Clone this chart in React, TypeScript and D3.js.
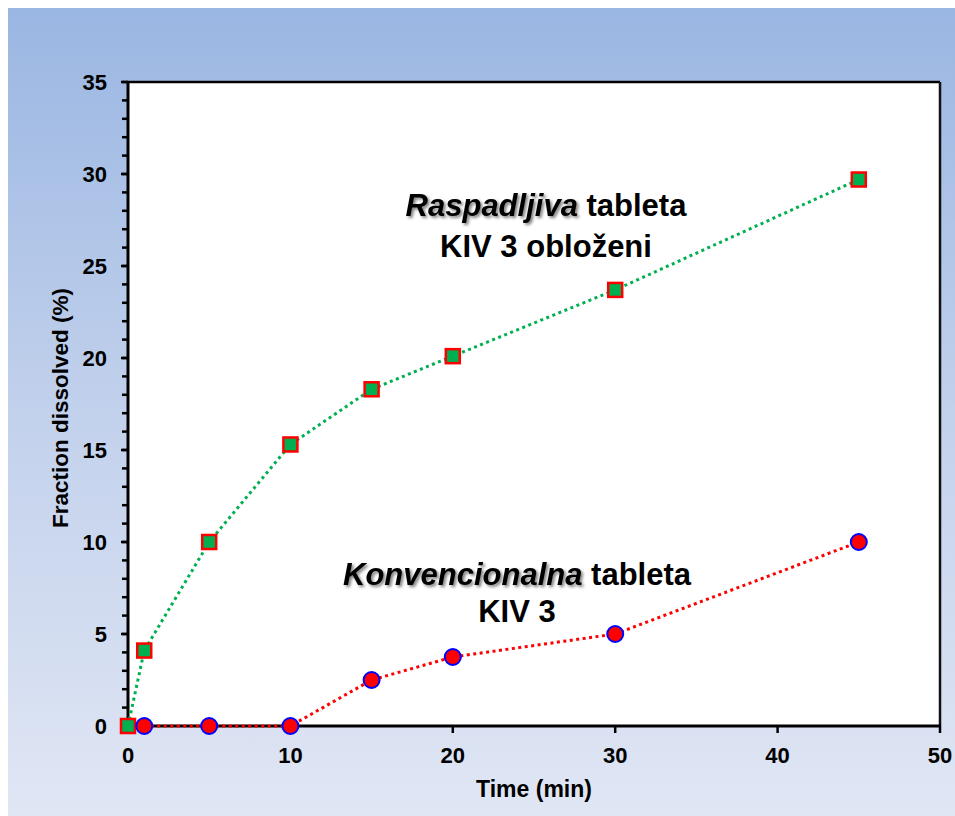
import React from 'react';
import * as d3 from 'd3';

const timeRasp = [0, 1, 5, 10, 15, 20, 30, 45];
const raspadljiva = [0, 4.1, 10, 15.3, 18.3, 20.1, 23.7, 29.7];
const timeKonv = [1, 5, 10, 15, 20, 30, 45];
const konvencionalna = [0, 0, 0, 2.5, 3.75, 5, 10];
const xTicks = [0, 10, 20, 30, 40, 50];
const yTicks = [0, 5, 10, 15, 20, 25, 30, 35];
const yMinorTicks = d3.range(0, 36, 1);

const FONT = '"Liberation Sans", Arial, sans-serif';

export default function App() {
  const W = 955, H = 816;
  const x = d3.scaleLinear().domain([0, 50]).range([128, 940]);
  const y = d3.scaleLinear().domain([0, 35]).range([726, 82]);
  const rasp = timeRasp.map((t, i) => [t, raspadljiva[i]] as [number, number]);
  const konv = timeKonv.map((t, i) => [t, konvencionalna[i]] as [number, number]);
  const line = d3.line<[number, number]>().x(d => x(d[0])).y(d => y(d[1]));

  const annot = (cx: number, y1: number, y2: number, it: string, rest: string, second: string) => (
    <g fontFamily={FONT} fontWeight="bold" fontSize={31} textAnchor="middle">
      <text x={cx} y={y1} filter="url(#shadow)">
        <tspan fontStyle="italic" fill="#000">{it}</tspan>
        <tspan fill="none">{' ' + rest}</tspan>
      </text>
      <text x={cx} y={y1}>
        <tspan fontStyle="italic" fill="none">{it}</tspan>
        <tspan fill="#000">{' ' + rest}</tspan>
      </text>
      <text x={cx} y={y2} fill="#000">{second}</text>
    </g>
  );

  return (
    <svg width={W} height={H} style={{ position: 'absolute', left: 0, top: 0, display: 'block' }}>
      <defs>
        <linearGradient id="bg" x1="0" y1="0" x2="0" y2="1">
          <stop offset="0" stopColor="#9ab6e2" />
          <stop offset="0.5" stopColor="#c2d1ec" />
          <stop offset="1" stopColor="#e0e6f4" />
        </linearGradient>
        <filter id="shadow" x="-10%" y="-40%" width="130%" height="190%">
          <feGaussianBlur in="SourceAlpha" stdDeviation="1.6" />
          <feOffset dx="2" dy="2" result="off" />
          <feFlood floodColor="#000" floodOpacity="0.5" />
          <feComposite in2="off" operator="in" />
          <feMerge>
            <feMergeNode />
            <feMergeNode in="SourceGraphic" />
          </feMerge>
        </filter>
      </defs>
      <rect x={8} y={8} width={W - 8} height={H - 8} fill="url(#bg)" />
      <rect x={x(0)} y={y(35)} width={x(50) - x(0)} height={y(0) - y(35)} fill="#fff" />

      {/* frame */}
      <line x1={x(0)} x2={x(50)} y1={y(35)} y2={y(35)} stroke="#000" strokeWidth={2.5} />
      <line x1={x(50)} x2={x(50)} y1={y(35)} y2={y(0)} stroke="#111" strokeWidth={2.5} />

      {/* y ticks */}
      {yMinorTicks.map(v => (
        <line key={'m' + v} x1={x(0) - 6} x2={x(0)} y1={y(v)} y2={y(v)} stroke="#000" strokeWidth={2.5} />
      ))}
      {yTicks.map(v => (
        <line key={'M' + v} x1={x(0) - 7} x2={x(0)} y1={y(v)} y2={y(v)} stroke="#000" strokeWidth={2.5} />
      ))}
      {xTicks.map(v => (
        <line key={'x' + v} x1={x(v)} x2={x(v)} y1={y(0)} y2={y(0) + 7} stroke="#000" strokeWidth={2.5} />
      ))}
      <line x1={x(0)} x2={x(0)} y1={y(35) - 1} y2={y(0) + 1.5} stroke="#000" strokeWidth={3} />
      <line x1={x(0) - 1.5} x2={x(50) + 1} y1={y(0)} y2={y(0)} stroke="#000" strokeWidth={3} />

      <g fontFamily={FONT} fontWeight="bold" fill="#000">
        {yTicks.map(v => (
          <text key={'yl' + v} x={107} y={y(v)} dy="0.36em" fontSize={22} textAnchor="end">{v}</text>
        ))}
        {xTicks.map(v => (
          <text key={'xl' + v} x={x(v)} y={763} fontSize={22} textAnchor="middle">{v}</text>
        ))}
        <text x={534} y={797} fontSize={23} textAnchor="middle">Time (min)</text>
        <text transform={`translate(68,${(y(0) + y(35)) / 2 + 4}) rotate(-90)`} fontSize={22.5} textAnchor="middle">Fraction dissolved (%)</text>
      </g>

      {/* series */}
      <path d={line(rasp) || ''} fill="none" stroke="#00b050" strokeWidth={3} strokeDasharray="3 3.5" />
      {rasp.map((d, i) => (
        <rect key={'s' + i} x={x(d[0]) - 7} y={y(d[1]) - 7} width={14} height={14} fill="#00b050" stroke="#ff0000" strokeWidth={2.5} />
      ))}
      <path d={line(konv) || ''} fill="none" stroke="#ff0000" strokeWidth={3} strokeDasharray="3 3.5" />
      {konv.map((d, i) => (
        <circle key={'c' + i} cx={x(d[0])} cy={y(d[1])} r={8} fill="#ff0000" stroke="#0000ff" strokeWidth={2} />
      ))}

      {annot(546, 216, 257, 'Raspadljiva', 'tableta', 'KIV 3 obloženi')}
      {annot(517, 585, 622, 'Konvencionalna', 'tableta', 'KIV 3')}
    </svg>
  );
}
